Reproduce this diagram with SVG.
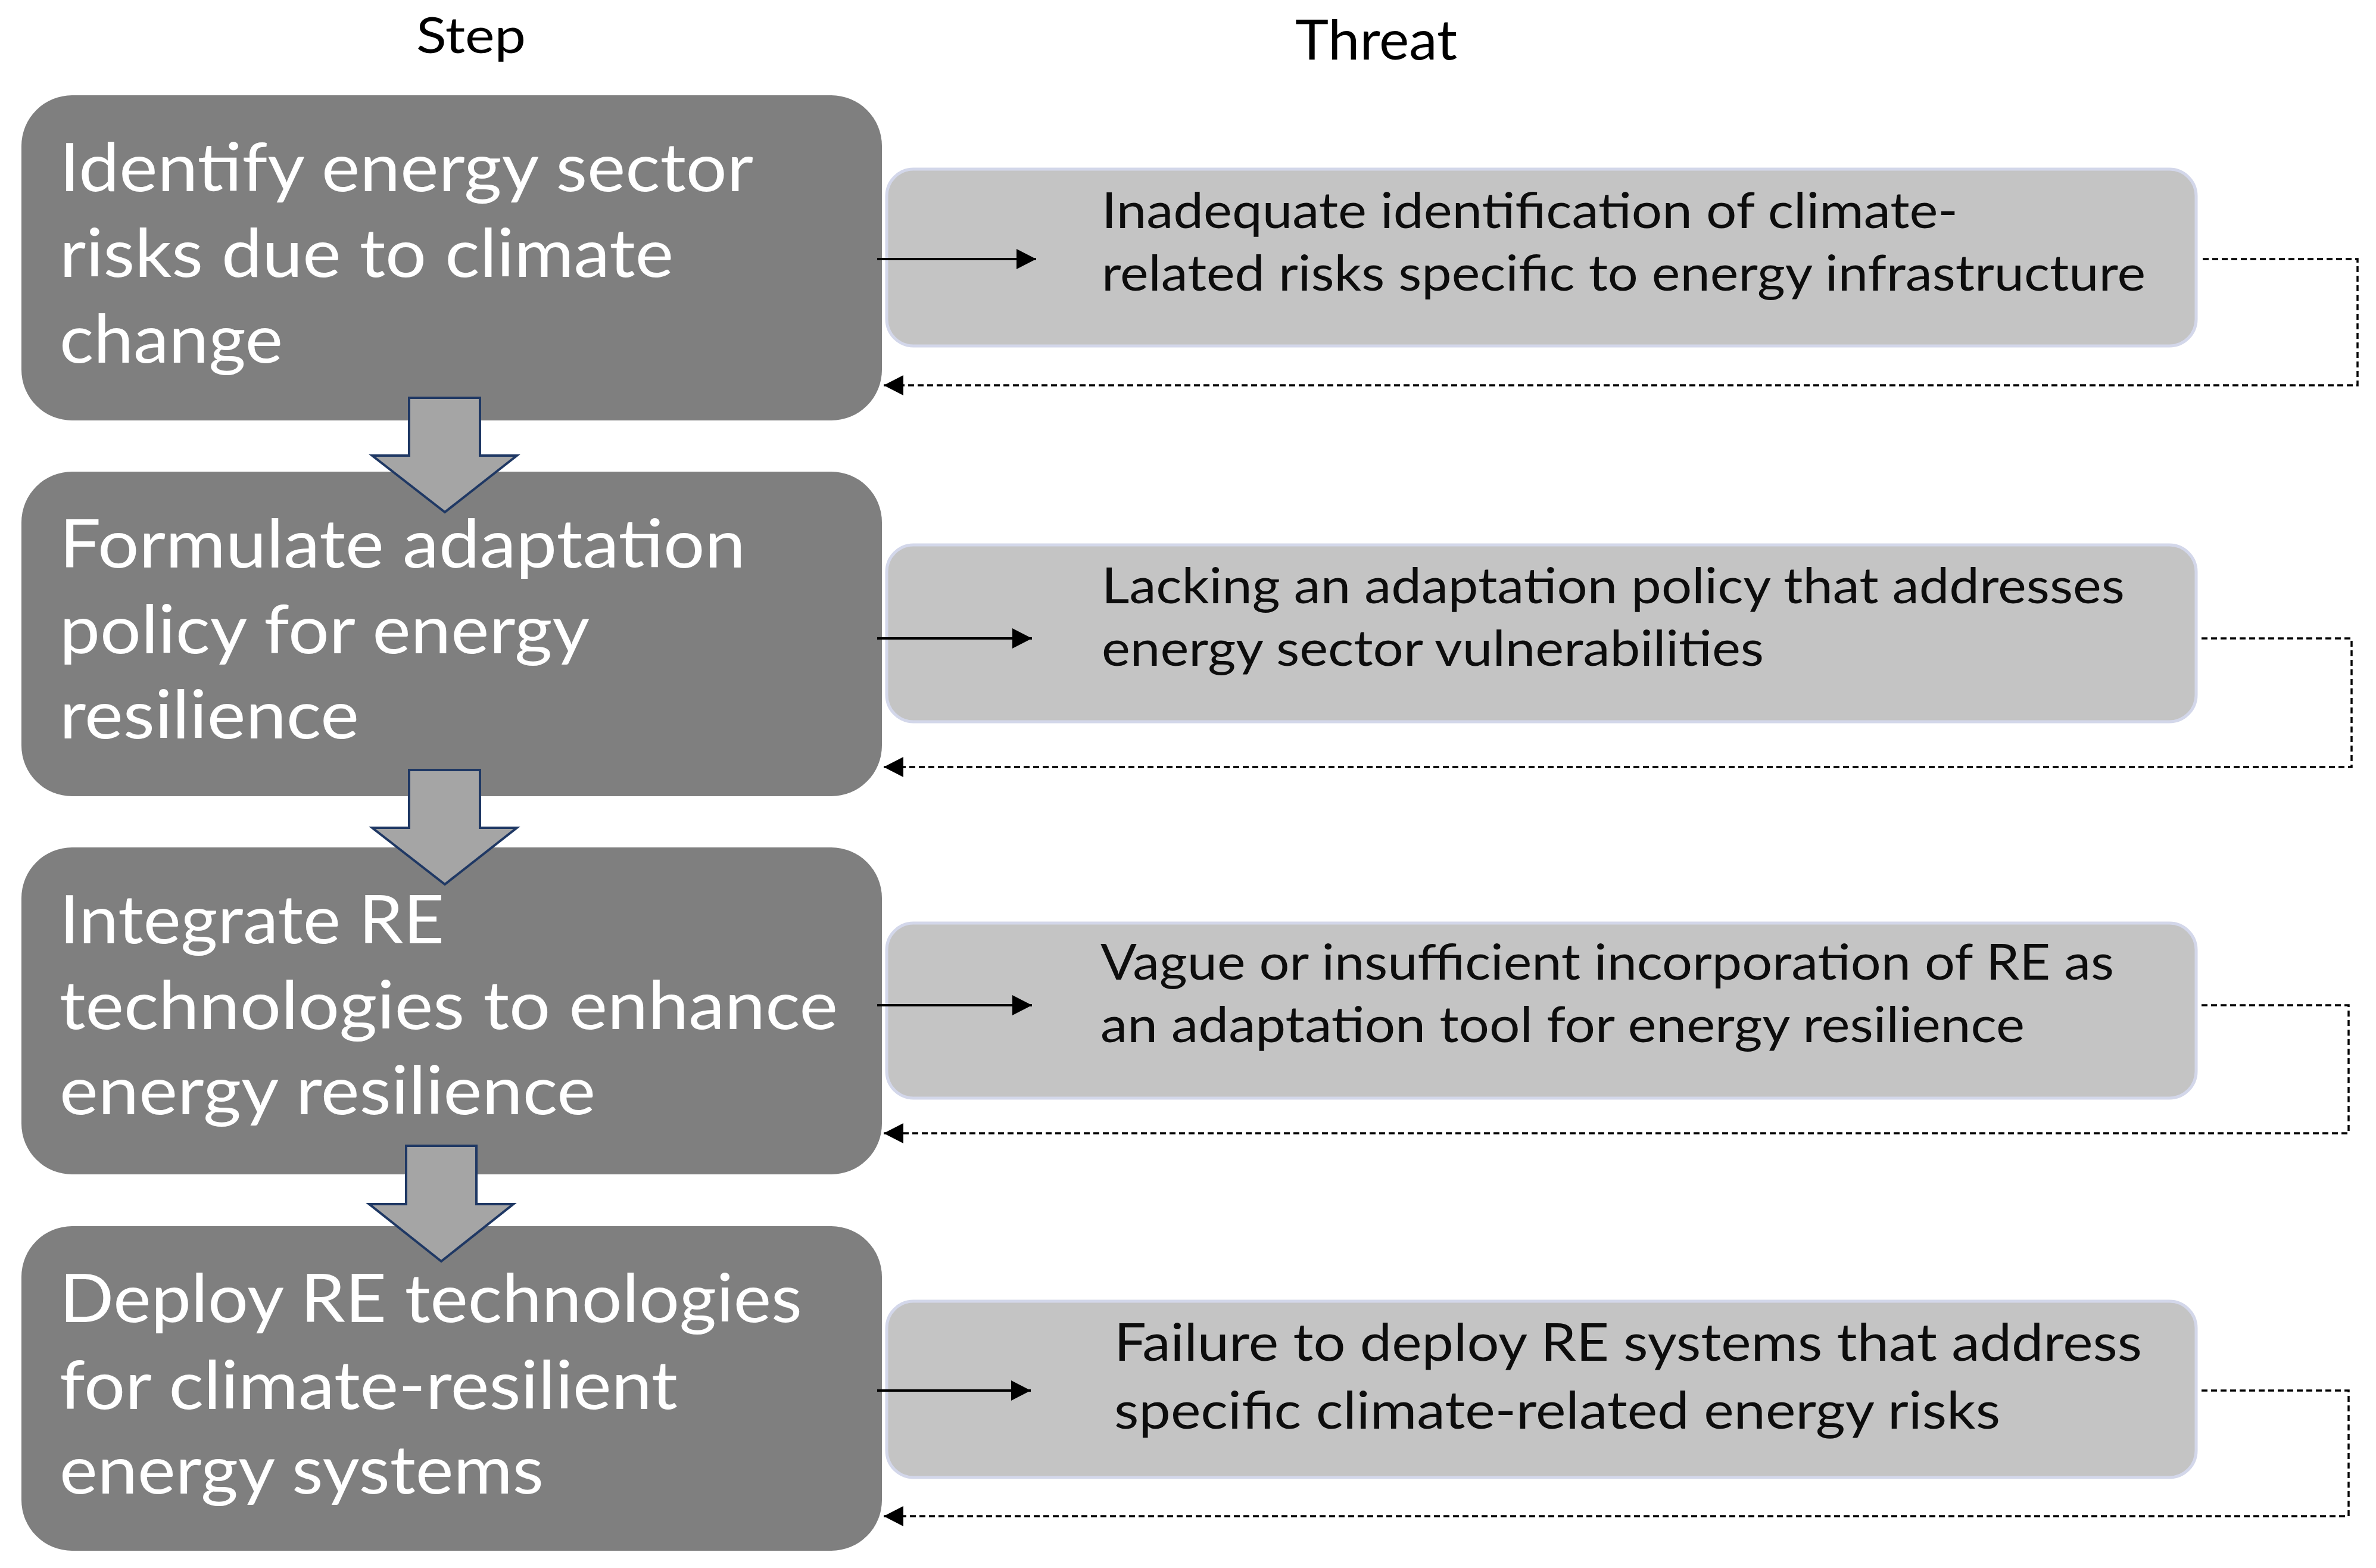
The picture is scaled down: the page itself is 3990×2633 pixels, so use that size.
<svg xmlns="http://www.w3.org/2000/svg" width="3990" height="2633" viewBox="0 0 3990 2633">
<style>
.step{fill:#7F7F7F;}
.threat{fill:#C4C4C4;stroke:#D3D7EA;stroke-width:5;}
.st{font-family:Lato,"Liberation Sans",sans-serif;font-size:112px;fill:#FFFFFF;}
.tt{font-family:Lato,"Liberation Sans",sans-serif;font-size:84px;fill:#0D0D0D;}
.tt4{font-family:Lato,"Liberation Sans",sans-serif;font-size:88px;fill:#0D0D0D;}
.hd{font-family:Lato,"Liberation Sans",sans-serif;fill:#000000;text-anchor:middle;}
.solid{fill:none;stroke:#000000;stroke-width:4;marker-end:url(#ah);}
.dash{fill:none;stroke:#000000;stroke-width:3.5;stroke-dasharray:10 6;marker-end:url(#ah);}
.down{fill:#A5A5A5;stroke:#1F3864;stroke-width:4;stroke-linejoin:miter;}
</style>
<defs>
<marker id="ah" markerUnits="userSpaceOnUse" markerWidth="36" markerHeight="36" refX="33" refY="17" orient="auto">
<path d="M0,0 L33,17 L0,34 Z" fill="#000000"/>
</marker>
</defs>
<rect width="3990" height="2633" fill="#FFFFFF"/>
<g id="headers">
<text class="hd" x="791" y="89" font-size="84" textLength="184" lengthAdjust="spacingAndGlyphs">Step</text>
<text class="hd" x="2311" y="100" font-size="93" textLength="272" lengthAdjust="spacingAndGlyphs">Threat</text>
</g>
<g id="step1">
<rect class="step" x="36" y="160" width="1445" height="546" rx="85" ry="85"/>
<text class="st" x="100" y="321" textLength="1165" lengthAdjust="spacingAndGlyphs">Identify energy sector</text>
<text class="st" x="100" y="465" textLength="1031" lengthAdjust="spacingAndGlyphs">risks due to climate</text>
<text class="st" x="100" y="609" textLength="375" lengthAdjust="spacingAndGlyphs">change</text>
</g>
<g id="step2">
<rect class="step" x="36" y="792" width="1445" height="545" rx="85" ry="85"/>
<text class="st" x="100" y="953" textLength="1152" lengthAdjust="spacingAndGlyphs">Formulate adaptation</text>
<text class="st" x="100" y="1097" textLength="890" lengthAdjust="spacingAndGlyphs">policy for energy</text>
<text class="st" x="100" y="1240" textLength="503" lengthAdjust="spacingAndGlyphs">resilience</text>
</g>
<g id="step3">
<rect class="step" x="36" y="1423" width="1445" height="549" rx="85" ry="85"/>
<text class="st" x="100" y="1584" textLength="646" lengthAdjust="spacingAndGlyphs">Integrate RE</text>
<text class="st" x="100" y="1728" textLength="1307" lengthAdjust="spacingAndGlyphs">technologies to enhance</text>
<text class="st" x="100" y="1871" textLength="900" lengthAdjust="spacingAndGlyphs">energy resilience</text>
</g>
<g id="step4">
<rect class="step" x="36" y="2059" width="1445" height="545" rx="85" ry="85"/>
<text class="st" x="100" y="2220" textLength="1247" lengthAdjust="spacingAndGlyphs">Deploy RE technologies</text>
<text class="st" x="100" y="2366" textLength="1038" lengthAdjust="spacingAndGlyphs">for climate-resilient</text>
<text class="st" x="100" y="2508" textLength="813" lengthAdjust="spacingAndGlyphs">energy systems</text>
</g>
<g id="threat1">
<rect class="threat" x="1489" y="284" width="2199" height="297" rx="45" ry="45"/>
<text class="tt" x="1850" y="383" textLength="1438" lengthAdjust="spacingAndGlyphs">Inadequate identification of climate-</text>
<text class="tt" x="1850" y="488" textLength="1753" lengthAdjust="spacingAndGlyphs">related risks specific to energy infrastructure</text>
</g>
<g id="threat2">
<rect class="threat" x="1489" y="915" width="2199" height="297" rx="45" ry="45"/>
<text class="tt" x="1850" y="1013" textLength="1718" lengthAdjust="spacingAndGlyphs">Lacking an adaptation policy that addresses</text>
<text class="tt" x="1850" y="1118" textLength="1112" lengthAdjust="spacingAndGlyphs">energy sector vulnerabilities</text>
</g>
<g id="threat3">
<rect class="threat" x="1489" y="1550" width="2199" height="294" rx="45" ry="45"/>
<text class="tt" x="1848" y="1645" textLength="1702" lengthAdjust="spacingAndGlyphs">Vague or insufficient incorporation of RE as</text>
<text class="tt" x="1848" y="1750" textLength="1552" lengthAdjust="spacingAndGlyphs">an adaptation tool for energy resilience</text>
</g>
<g id="threat4">
<rect class="threat" x="1489" y="2185" width="2199" height="296" rx="45" ry="45"/>
<text class="tt4" x="1871" y="2285" textLength="1726" lengthAdjust="spacingAndGlyphs">Failure to deploy RE systems that address</text>
<text class="tt4" x="1871" y="2399" textLength="1488" lengthAdjust="spacingAndGlyphs">specific climate-related energy risks</text>
</g>
<g id="connectors">
<polygon class="down" points="687,668 806,668 806,765 868,765 747,860 625,765 687,765"/>
<polygon class="down" points="687,1293 806,1293 806,1390 868,1390 747,1485 625,1390 687,1390"/>
<polygon class="down" points="682,1924 800,1924 800,2022 862,2022 741,2118 620,2022 682,2022"/>
<path class="solid" d="M1473,435 L1740,435"/>
<path class="solid" d="M1473,1072 L1733,1072"/>
<path class="solid" d="M1473,1688 L1733,1688"/>
<path class="solid" d="M1473,2335 L1731,2335"/>
<path class="dash" d="M3699,435 L3959,435 L3959,647 L1484,647"/>
<path class="dash" d="M3697,1072 L3949,1072 L3949,1288 L1484,1288"/>
<path class="dash" d="M3697,1688 L3944,1688 L3944,1903 L1484,1903"/>
<path class="dash" d="M3697,2335 L3944,2335 L3944,2546 L1484,2546"/>
</g>
</svg>
